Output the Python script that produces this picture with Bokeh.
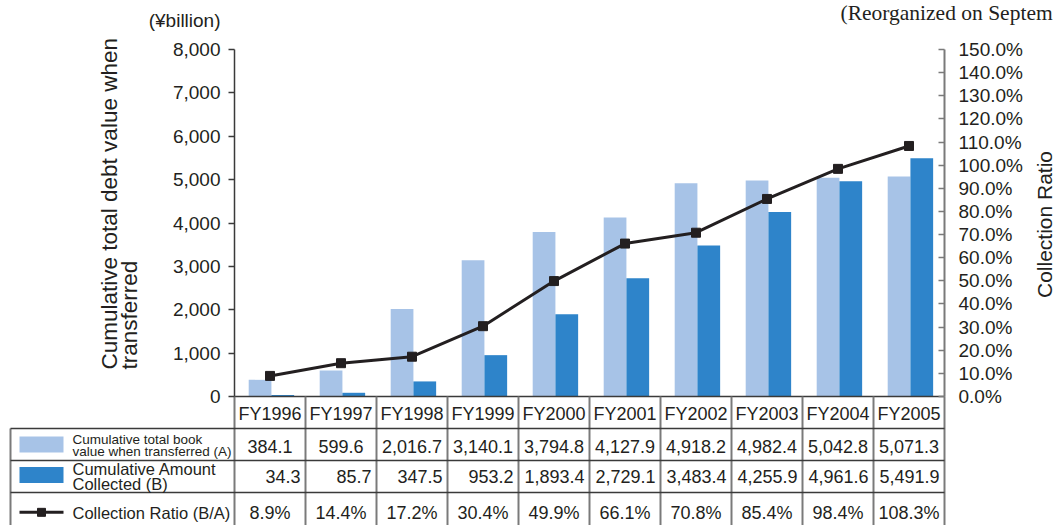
from math import pi
from bokeh.plotting import figure
from bokeh.models import (Range1d, LinearAxis, FixedTicker, NumeralTickFormatter,
                          PrintfTickFormatter, ColumnDataSource, Label)
from bokeh.transform import dodge
from bokeh.core.properties import value
from bokeh.embed import file_html
from bokeh.resources import INLINE

# ---------------- data ----------------
categories = ["FY1996", "FY1997", "FY1998", "FY1999", "FY2000",
              "FY2001", "FY2002", "FY2003", "FY2004", "FY2005"]
book_value = [384.1, 599.6, 2016.7, 3140.1, 3794.8, 4127.9, 4918.2, 4982.4, 5042.8, 5071.3]
collected = [34.3, 85.7, 347.5, 953.2, 1893.4, 2729.1, 3483.4, 4255.9, 4961.6, 5491.9]
ratio = [8.9, 14.4, 17.2, 30.4, 49.9, 66.1, 70.8, 85.4, 98.4, 108.3]
left_ticks = [0, 1000, 2000, 3000, 4000, 5000, 6000, 7000, 8000]
right_ticks = [0, 10, 20, 30, 40, 50, 60, 70, 80, 90, 100, 110, 120, 130, 140, 150]
name_a = ["Cumulative total book", "value when transferred (A)"]
name_b = ["Cumulative Amount", "Collected (B)"]
name_r = "Collection Ratio (B/A)"
left_title = ["Cumulative total debt value when", "transferred"]
right_title = "Collection Ratio"
unit_text = "(\u00a5billion)"
note_text = "(Reorganized on Septem"

# ---------------- style / layout ----------------
W, H = 1056, 525
FRAME_L, FRAME_R, FRAME_T, FRAME_B = 234, 944, 49, 396   # plot area in page pixels
ROW_H = 32                                               # table row height in pixels
FONT = "Liberation Sans"
LIGHT = "#a7c3e7"
DARK = "#2e84ca"
INK = "#231f20"
AXIS = "#3a3a3a"
GRAYLINE = "#7a7a7a"

n = len(categories)
U = (FRAME_R - FRAME_L) / n            # pixels per category
PH = FRAME_B - FRAME_T                 # plot area height

ymax_l, ymax_r = left_ticks[-1], right_ticks[-1]
x_range = Range1d(-FRAME_L / U, n + (W - FRAME_R) / U)
y_range = Range1d(-ymax_l * (H - FRAME_B) / PH, ymax_l + ymax_l * FRAME_T / PH)

p = figure(width=W, height=H, x_range=x_range, y_range=y_range,
           output_backend="svg", toolbar_location=None,
           x_axis_location=None, y_axis_location=None,
           min_border=0, min_border_left=0, min_border_right=0,
           min_border_top=0, min_border_bottom=0)
p.grid.visible = False
p.outline_line_color = None
p.background_fill_color = "white"
p.border_fill_color = "white"

p.extra_y_ranges = {
    "ratio": Range1d(-ymax_r * (H - FRAME_B) / PH, ymax_r + ymax_r * FRAME_T / PH),
    "table": Range1d((H - FRAME_B) / ROW_H, -FRAME_B / ROW_H),
}

# ---- axes ----
ya = LinearAxis(fixed_location=0, bounds=(0, ymax_l), ticker=FixedTicker(ticks=left_ticks),
                formatter=NumeralTickFormatter(format="0,0"))
ya.major_tick_out = 6
ya.major_tick_in = 0
ya.minor_tick_out = 0
ya.minor_tick_in = 0
ya.axis_line_color = AXIS
ya.axis_line_width = 1.5
ya.major_tick_line_color = AXIS
ya.major_tick_line_width = 1.5
ya.major_label_text_font = FONT
ya.major_label_text_font_size = "19px"
ya.major_label_text_color = INK
ya.major_label_standoff = 8
p.add_layout(ya, "left")

ra = LinearAxis(fixed_location=n, y_range_name="ratio", bounds=(0, ymax_r),
                ticker=FixedTicker(ticks=right_ticks),
                formatter=PrintfTickFormatter(format="%.1f%%"))
ra.major_tick_out = 0
ra.major_tick_in = 6
ra.minor_tick_out = 0
ra.minor_tick_in = 0
ra.axis_line_color = GRAYLINE
ra.axis_line_width = 2
ra.major_tick_line_color = GRAYLINE
ra.major_tick_line_width = 1.5
ra.major_label_text_font = FONT
ra.major_label_text_font_size = "19px"
ra.major_label_text_color = INK
ra.major_label_standoff = 14
p.add_layout(ra, "right")

# ---- bars and line ----
cx = [i + 0.5 for i in range(n)]
src = ColumnDataSource(dict(x=cx, cat=categories, a=book_value, b=collected, r=ratio))

p.vbar(x=dodge("x", -0.14), top="a", width=0.32, source=src, fill_color=LIGHT, line_color=None)
p.vbar(x=dodge("x", 0.18), top="b", width=0.32, source=src, fill_color=DARK, line_color=None)
p.line(x="x", y="r", y_range_name="ratio", source=src, line_color=INK, line_width=3)
p.scatter(x="x", y="r", y_range_name="ratio", source=src, marker="square", size=9,
          fill_color=INK, line_color=INK)

# baseline of the plot area (x axis line)
p.segment(x0=[0], y0=[0], x1=[n], y1=[0], line_color=AXIS, line_width=1.5)

# ---- titles ----
def lab(text, x, y, size, angle=0, align="left", baseline="middle", font=FONT):
    # x, y are page pixels from the top-left corner
    p.add_layout(Label(x=x, y=H - y, x_units="screen", y_units="screen", text=text, angle=angle,
                       text_align=align, text_baseline=baseline, text_font=font,
                       text_font_size=size, text_color=INK))

lab(left_title[0], 109, 369, "22.5px", angle=pi / 2)
lab(left_title[1], 129, 369, "22.5px", angle=pi / 2)
lab(right_title, 1044, 224, "21px", angle=pi / 2, align="center")
lab(unit_text, 220, 20, "19px", align="right")
lab(note_text, 840, 12, "21.5px", font="Liberation Serif")

# ---------------- data table ----------------
tsrc = ColumnDataSource(dict(
    cx=cx, rx=[i + 1 for i in range(n)], cat=categories,
    a=[f"{v:,.1f}" for v in book_value],
    b=[f"{v:,.1f}" for v in collected],
    r=[f"{v:.1f}%" for v in ratio],
))

left_edge = -(FRAME_L - 10) / U
T = dict(y_range_name="table")
p.segment(x0=list(range(n + 1)), y0=[0] * (n + 1), x1=list(range(n + 1)), y1=[5] * (n + 1),
          line_color=GRAYLINE, line_width=2, **T)
p.segment(x0=[left_edge], y0=[1], x1=[left_edge], y1=[5], line_color=GRAYLINE, line_width=2, **T)
p.segment(x0=[left_edge] * 3, y0=[1, 2, 3], x1=[n] * 3, y1=[1, 2, 3],
          line_color=AXIS, line_width=1.5, **T)

common = dict(text_font=value(FONT), text_font_size="18px", text_color=INK,
              text_baseline="middle", **T)
p.text(x="cx", y=0.55, text="cat", source=tsrc, text_align="center", **common)
p.text(x="cx", y=1.55, text="a", source=tsrc, text_align="center", **common)
p.text(x="rx", y=2.5, text="b", source=tsrc, text_align="right", x_offset=-5, **common)
p.text(x="cx", y=3.65, text="r", source=tsrc, text_align="center", **common)

# legend swatches in the table's first column
sw_x = (41 - FRAME_L) / U
p.rect(x=[sw_x], y=[1.5], width=44 / U, height=0.5, fill_color=LIGHT, line_color=None, **T)
p.rect(x=[sw_x], y=[2.45], width=44 / U, height=0.5, fill_color=DARK, line_color=None, **T)
p.segment(x0=[(19 - FRAME_L) / U], y0=[3.62], x1=[(63 - FRAME_L) / U], y1=[3.62],
          line_color=INK, line_width=3, **T)
p.scatter(x=[sw_x], y=[3.62], marker="square", size=8, fill_color=INK, line_color=INK, **T)

tx = (72 - FRAME_L) / U
p.text(x=[tx, tx], y=[1.33, 1.72], text=name_a, text_align="left", text_font=value(FONT),
       text_font_size="13.5px", text_color=INK, text_baseline="middle", **T)
p.text(x=[tx, tx], y=[2.27, 2.74], text=name_b, text_align="left", text_font=value(FONT),
       text_font_size="16.5px", text_color=INK, text_baseline="middle", **T)
p.text(x=[tx], y=[3.65], text=[name_r], text_align="left", text_font=value(FONT),
       text_font_size="16.5px", text_color=INK, text_baseline="middle", **T)

open("out.html", "w").write(file_html(p, INLINE))
